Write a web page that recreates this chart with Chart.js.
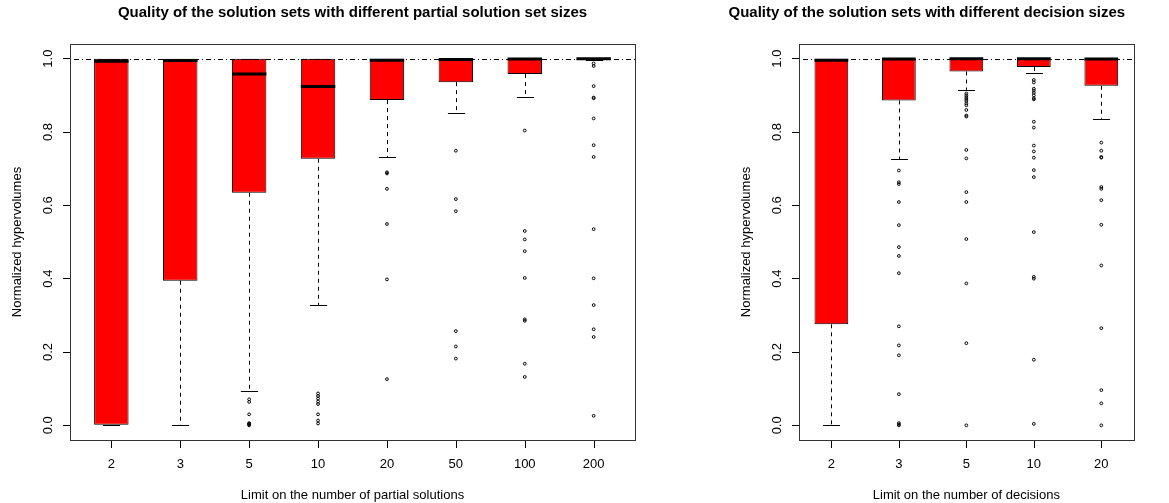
<!DOCTYPE html>
<html><head><meta charset="utf-8">
<script src="https://cdn.jsdelivr.net/npm/chart.js@4.4.1/dist/chart.umd.min.js"></script>
<style>
html,body{margin:0;padding:0;background:#fff;overflow:hidden;}
#wrap{position:relative;width:1169px;height:503px;overflow:hidden;background:#fff;}
#c1{position:absolute;left:0;top:0;}
#c2{position:absolute;left:720px;top:0;}
</style></head><body>
<div id="wrap"><canvas id="c1" width="720" height="503"></canvas><canvas id="c2" width="493" height="503"></canvas></div>
<script>
// ---------- data: left panel ----------
const partialCategories = ['2','3','5','10','20','50','100','200'];
const partialLower  = [0.000, 0.000, 0.0945, 0.327, 0.731, 0.853, 0.896, 0.996];
const partialQ1     = [0.000, 0.3945, 0.6345, 0.727, 0.887, 0.936, 0.958, 0.997];
const partialMedian = [0.993, 0.995, 0.958, 0.924, 0.996, 0.998, 0.999, 1.000];
const partialQ3     = [1.000, 1.000, 1.000, 1.000, 1.000, 1.000, 1.000, 1.000];
const partialUpper  = [1.000, 1.000, 1.000, 1.000, 1.000, 1.000, 1.000, 1.000];
const partialOutliers = [
  [], [],
  [0.071, 0.064, 0.030, 0.006, 0.004, 0.002, 0.000],
  [0.087, 0.080, 0.073, 0.065, 0.058, 0.030, 0.013, 0.005],
  [0.690, 0.687, 0.645, 0.549, 0.398, 0.126],
  [0.749, 0.617, 0.584, 0.257, 0.215, 0.182],
  [0.804, 0.530, 0.507, 0.475, 0.402, 0.289, 0.285, 0.168, 0.132],
  [0.987, 0.980, 0.925, 0.894, 0.892, 0.837, 0.764, 0.732, 0.535, 0.401, 0.328, 0.262, 0.241, 0.026]
];
// ---------- data: right panel ----------
const decisionCategories = ['2','3','5','10','20'];
const decisionLower  = [0.000, 0.727, 0.914, 0.960, 0.836];
const decisionQ1     = [0.2755, 0.886, 0.965, 0.977, 0.926];
const decisionMedian = [0.996, 0.999, 1.000, 1.000, 0.999];
const decisionQ3     = [1.000, 1.000, 1.000, 1.000, 1.000];
const decisionUpper  = [1.000, 1.000, 1.000, 1.000, 1.000];
const decisionOutliers = [
  [],
  [0.695, 0.663, 0.658, 0.609, 0.546, 0.486, 0.462, 0.415, 0.270, 0.218, 0.191, 0.085, 0.006, 0.002, 0.000],
  [0.905, 0.900, 0.895, 0.890, 0.885, 0.878, 0.873, 0.860, 0.845, 0.842, 0.751, 0.728, 0.636, 0.609, 0.508, 0.387, 0.224, 0.000],
  [0.942, 0.935, 0.918, 0.913, 0.907, 0.900, 0.892, 0.889, 0.828, 0.812, 0.763, 0.747, 0.730, 0.696, 0.677, 0.527, 0.405, 0.400, 0.179, 0.004],
  [0.771, 0.749, 0.732, 0.730, 0.650, 0.645, 0.614, 0.547, 0.436, 0.265, 0.096, 0.060, 0.000]
];
const yTickValues = [0.0, 0.2, 0.4, 0.6, 0.8, 1.0];
const referenceLevel = 1.0;

// ---------- drawing ----------
Chart.defaults.font.family = "'Liberation Sans', Arial, Helvetica, sans-serif";
Chart.defaults.font.size = 13;
Chart.defaults.color = '#000';
const BOX_W = 0.5, CAP_W = 0.25, TICK_LEN = 7;

const boxExtras = {
  id: 'boxExtras',
  beforeDatasetsDraw(chart, args, o) {
    const {ctx, scales: {x, y}} = chart;
    const seg = (x1, y1, x2, y2) => { ctx.beginPath(); ctx.moveTo(x1, y1); ctx.lineTo(x2, y2); ctx.stroke(); };
    ctx.save();
    ctx.strokeStyle = '#000'; ctx.lineWidth = 1;
    o.lower.forEach((lo, i) => {
      const cx = Math.round(x.getPixelForValue(i + 1)) + 0.5;
      const half = Math.abs(x.getPixelForValue(i + 1 + CAP_W / 2) - x.getPixelForValue(i + 1));
      const yLo = y.getPixelForValue(lo), yQ1 = y.getPixelForValue(o.q1[i]);
      const yQ3 = y.getPixelForValue(o.q3[i]), yUp = y.getPixelForValue(o.upper[i]);
      ctx.setLineDash([4, 4]);
      seg(cx, yQ1, cx, yLo); seg(cx, yQ3, cx, yUp);
      ctx.setLineDash([]);
      seg(cx - half, Math.round(yLo) + 0.5, cx + half, Math.round(yLo) + 0.5);
      seg(cx - half, Math.round(yUp) + 0.5, cx + half, Math.round(yUp) + 0.5);
    });
    ctx.restore();
  },
  afterDatasetsDraw(chart, args, o) {
    const {ctx, chartArea: a, scales: {x, y}} = chart;
    ctx.save();
    ctx.strokeStyle = '#000'; ctx.lineWidth = 3;
    o.median.forEach((m, i) => {
      const l = x.getPixelForValue(i + 1 - BOX_W / 2), r = x.getPixelForValue(i + 1 + BOX_W / 2);
      const ym = y.getPixelForValue(m);
      ctx.beginPath(); ctx.moveTo(l, ym); ctx.lineTo(r, ym); ctx.stroke();
    });
    ctx.lineWidth = 1; ctx.setLineDash([1, 3, 5, 3]);
    const yr = Math.round(y.getPixelForValue(o.ref)) + 0.5;
    ctx.beginPath(); ctx.moveTo(a.left, yr); ctx.lineTo(a.right, yr); ctx.stroke();
    ctx.setLineDash([]);
    ctx.strokeStyle = '#333';
    ctx.strokeRect(Math.round(a.left) + 0.5, Math.round(a.top) + 0.5, Math.round(a.right - a.left), Math.round(a.bottom - a.top));
    ctx.restore();
  },
  afterDraw(chart) {
    // x-axis tick marks at the category positions
    const {ctx, chartArea: a, scales: {x}} = chart;
    ctx.save();
    ctx.fillStyle = '#000';
    const yb = Math.round(a.bottom) + 1;
    const n = chart.data.datasets[0].data.length;
    for (let i = 0; i < n; i++) {
      const px = Math.round(x.getPixelForValue(i + 1));
      ctx.fillRect(px, yb, 1, TICK_LEN);
    }
    ctx.restore();
  }
};

function makeChart(canvasId, cats, lower, q1, median, q3, upper, outliers, title, xTitle, xMin, xMax, yWidth, padRight, yTitlePad, titleFull) {
  const boxData = cats.map((c, i) => ({x: i + 1, y: [q1[i], q3[i]]}));
  const outData = [];
  outliers.forEach((arr, i) => arr.forEach(v => outData.push({x: i + 1, y: v})));
  return new Chart(document.getElementById(canvasId), {
    type: 'bar',
    data: {datasets: [
      {type: 'bar', data: boxData, backgroundColor: '#ff0000', borderColor: '#000', borderWidth: 1, borderSkipped: false,
       barPercentage: BOX_W, categoryPercentage: 1.0},
      {type: 'scatter', data: outData, pointRadius: 1.4, pointBorderWidth: 1, pointBorderColor: '#000',
       pointBackgroundColor: 'rgba(0,0,0,0)', pointStyle: 'circle'}
    ]},
    options: {
      responsive: false, animation: false, devicePixelRatio: 1,
      layout: {padding: {left: 0, right: padRight, top: 0, bottom: 0}},
      plugins: {
        legend: {display: false}, tooltip: {enabled: false},
        title: {display: true, text: title, fullSize: titleFull, color: '#000',
                font: {size: 15, weight: 'bold'}, padding: {top: 3.5, bottom: 22.5}},
        boxExtras: {lower, q1, median, q3, upper, ref: referenceLevel}
      },
      scales: {
        x: {
          type: 'linear', min: xMin, max: xMax, offset: false,
          afterBuildTicks: s => { s.ticks = cats.map((c, i) => ({value: i + 1})); },
          afterFit: s => { s.height = 63; },
          ticks: {autoSkip: false, maxRotation: 0, minRotation: 0, padding: 9, color: '#000', font: {size: 13},
                  callback: v => cats[Math.round(v) - 1]},
          grid: {display: false},
          border: {display: false},
          title: {display: true, text: xTitle, color: '#000', font: {size: 13}, padding: {top: 0, bottom: 0}}
        },
        y: {
          type: 'linear', min: -0.04, max: 1.04,
          afterBuildTicks: s => { s.ticks = yTickValues.map(v => ({value: v})); },
          afterFit: s => { s.width = yWidth; },
          ticks: {minRotation: 90, maxRotation: 90, crossAlign: 'center', padding: 6, color: '#000',
                  font: {size: 13}, callback: v => Number(v).toFixed(1)},
          grid: {drawOnChartArea: false, drawTicks: true, tickLength: TICK_LEN, color: '#000', lineWidth: 1},
          border: {display: false},
          title: {display: true, text: 'Normalized hypervolumes', color: '#000', font: {size: 13},
                  padding: {top: yTitlePad, bottom: 0}}
        }
      }
    },
    plugins: [boxExtras]
  });
}

makeChart('c1', partialCategories, partialLower, partialQ1, partialMedian, partialQ3, partialUpper, partialOutliers,
  'Quality of the solution sets with different partial solution set sizes',
  'Limit on the number of partial solutions', 0.4, 8.6, 70, 85, 9.2, false);
makeChart('c2', decisionCategories, decisionLower, decisionQ1, decisionMedian, decisionQ3, decisionUpper, decisionOutliers,
  'Quality of the solution sets with different decision sizes',
  'Limit on the number of decisions', 0.52, 5.48, 79, 79.3, 18.2, true);
</script>
</body></html>
